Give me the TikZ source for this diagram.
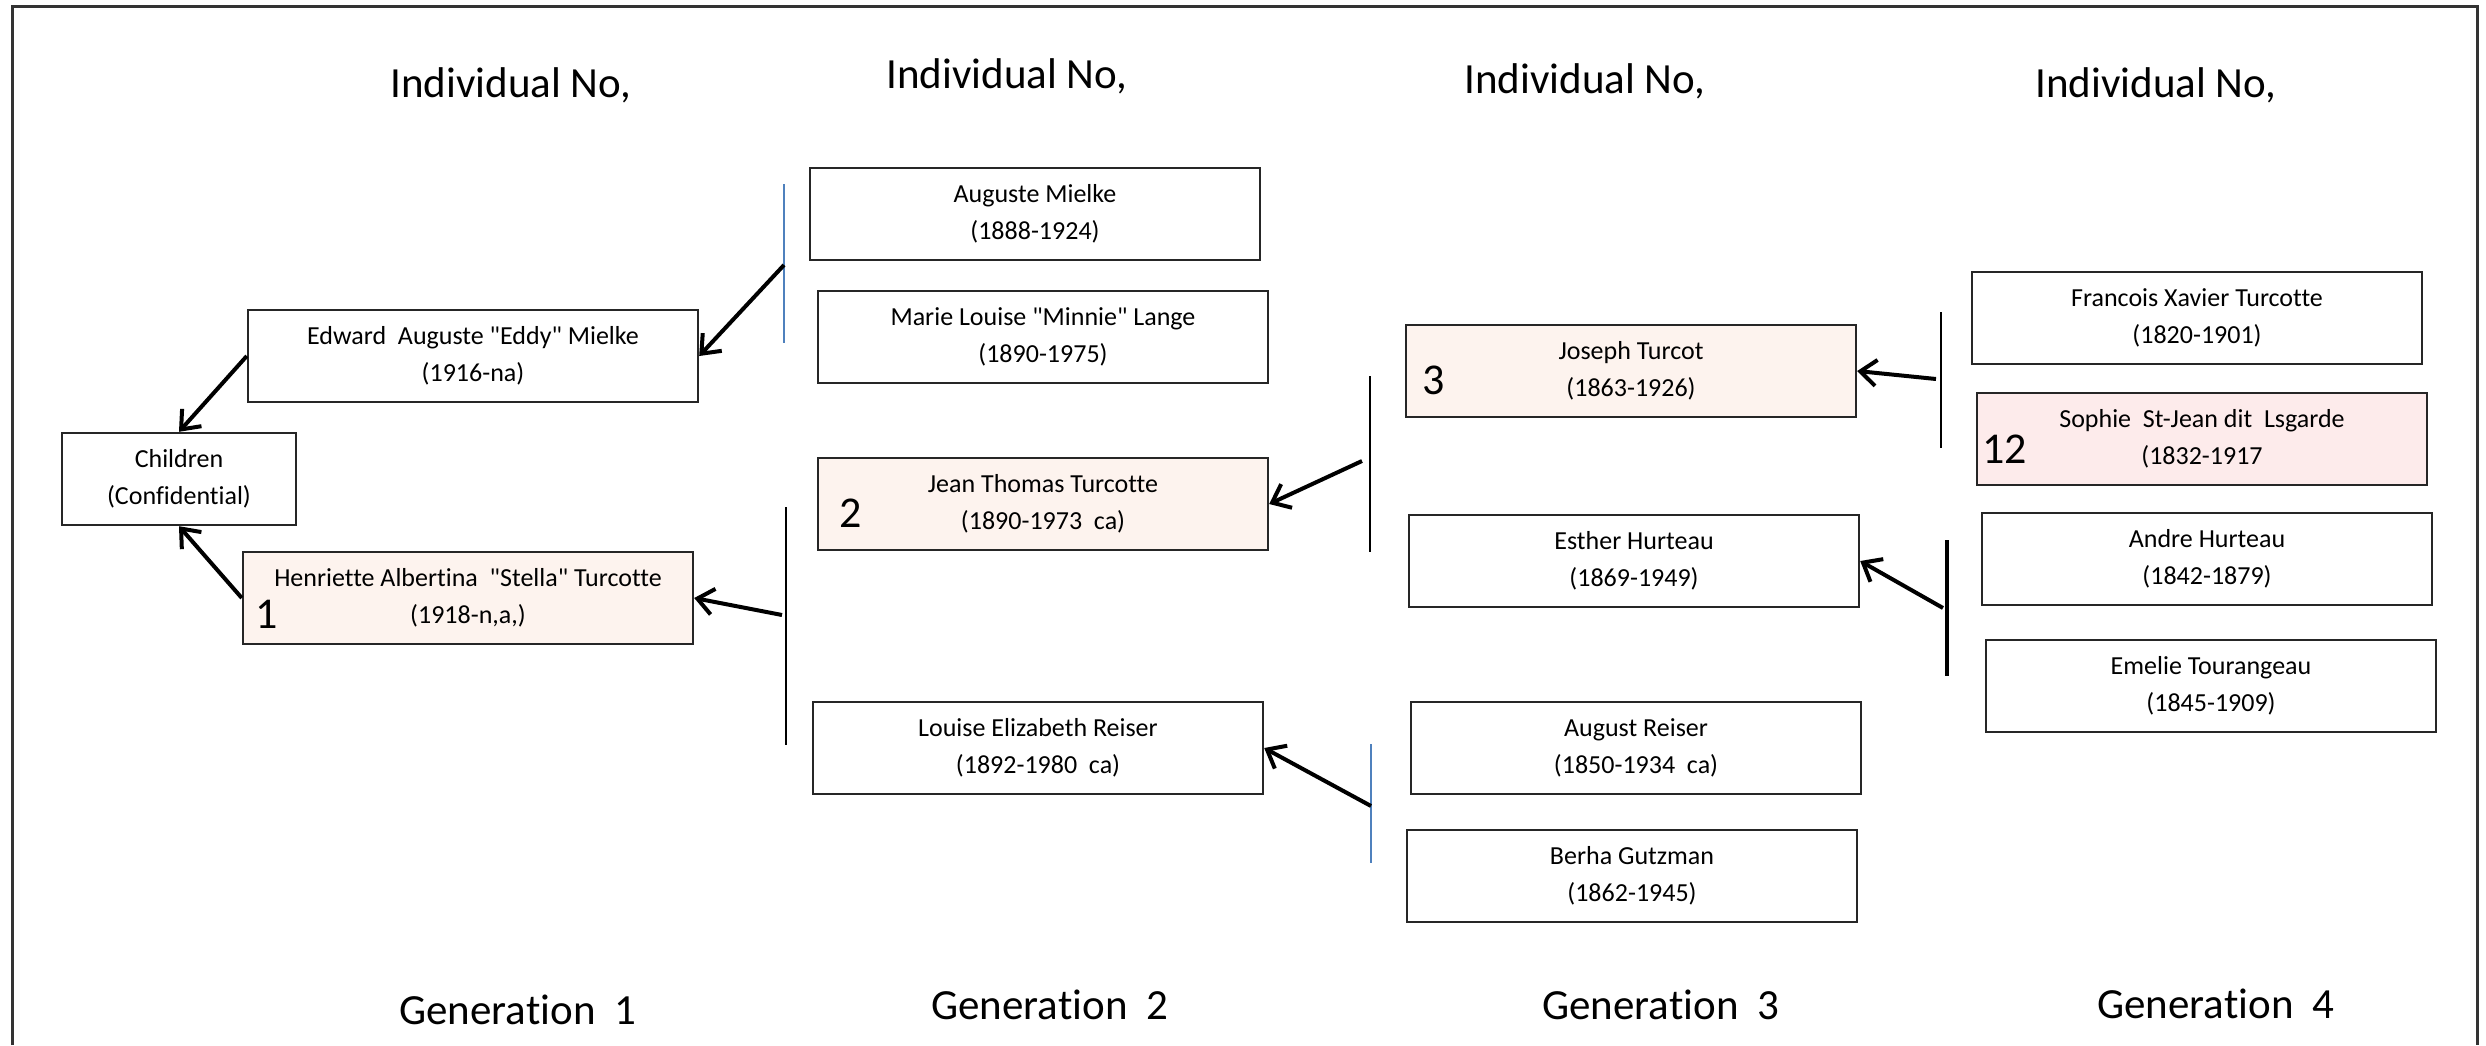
\documentclass[tikz,border=0pt]{standalone}
\usepackage{fontspec}
\setmainfont{Carlito}[Ligatures={TeX,NoCommon}]
\usetikzlibrary{arrows.meta}
\definecolor{peach}{HTML}{FDF3EE}
\definecolor{rosy}{HTML}{FDEBEB}
\definecolor{officeblue}{HTML}{4F81BD}
\newcommand{\qq}{\textquotedbl}
\begin{document}
\begin{tikzpicture}[x=0.5pt,y=-0.5pt,
  person/.style={draw=black!85,line width=1.2pt,minimum width=225pt,minimum height=46pt,
    inner sep=0pt,align=center,font=\fontsize{13}{18.5}\selectfont},
  marked/.style={person,fill=peach},
  num/.style={anchor=base west,inner sep=0pt,font=\fontsize{22}{22}\selectfont},
  head/.style={anchor=base,inner sep=0pt,font=\fontsize{21.5}{21.5}\selectfont},
  arr/.style={line width=2pt,-{Straight Barb[length=8pt,width=13pt,line width=2pt]}},
  bar/.style={line width=1pt},
  bluebar/.style={officeblue,line width=1pt}]
  \useasboundingbox (0,0) rectangle (2486,1045);
  \draw[black!80,line width=1.5pt] (12,1045) -- (12,6) -- (2477,6) -- (2477,1045);

  \node[head] (ind1) at (511,97) {Individual No,};
  \node[head] (ind2) at (1007,88) {Individual No,};
  \node[head] (ind3) at (1585,93) {Individual No,};
  \node[head] (ind4) at (2156,97) {Individual No,};
  \node[head] (gen1) at (518,1024) {Generation\ \ 1};
  \node[head] (gen2) at (1050,1019) {Generation\ \ 2};
  \node[head] (gen3) at (1661,1019) {Generation\ \ 3};
  \node[head] (gen4) at (2216,1018) {Generation\ \ 4};

  \node[person,minimum width=117pt] (children) at (179,479) {Children\\(Confidential)};
  \node[person] (edward) at (473,356) {Edward\ \ Auguste \qq Eddy\qq\ Mielke\\(1916-na)};
  \node[marked] (henriette) at (468,598) {Henriette Albertina\ \ \qq Stella\qq\ Turcotte\\(1918-n,a,)};

  \node[person] (auguste) at (1035,214) {Auguste Mielke\\(1888-1924)};
  \node[person] (marie) at (1043,337) {Marie Louise \qq Minnie\qq\ Lange\\(1890-1975)};
  \node[marked] (jean) at (1043,504) {Jean Thomas Turcotte\\(1890-1973\ \ ca)};
  \node[person] (louise) at (1038,748) {Louise Elizabeth Reiser\\(1892-1980\ \ ca)};

  \node[marked] (joseph) at (1631,371) {Joseph Turcot\\(1863-1926)};
  \node[person] (esther) at (1634,561) {Esther Hurteau\\(1869-1949)};
  \node[person] (august) at (1636,748) {August Reiser\\(1850-1934\ \ ca)};
  \node[person] (berha) at (1632,876) {Berha Gutzman\\(1862-1945)};

  \node[person] (francois) at (2197,318) {Francois Xavier Turcotte\\(1820-1901)};
  \node[person,fill=rosy] (sophie) at (2202,439) {Sophie\ \ St-Jean dit\ \ Lsgarde\\(1832-1917};
  \node[person] (andre) at (2207,559) {Andre Hurteau\\(1842-1879)};
  \node[person] (emelie) at (2211,686) {Emelie Tourangeau\\(1845-1909)};

  \node[num] (n1) at (255,628) {1};
  \node[num] (n2) at (839,527) {2};
  \node[num] (n3) at (1422,394) {3};
  \node[num] (n12) at (1982,463) {12};

  \coordinate (mielketop) at (784,184);
  \coordinate (mielkebot) at (784,343);
  \coordinate (mielkemid) at (784,265);
  \coordinate (turc2top) at (786,507);
  \coordinate (turc2bot) at (786,745);
  \coordinate (turc2mid) at (782,615);
  \coordinate (turc3top) at (1370,376);
  \coordinate (turc3bot) at (1370,552);
  \coordinate (turc3mid) at (1362,461);
  \coordinate (reisertop) at (1371,744);
  \coordinate (reiserbot) at (1371,863);
  \coordinate (reisermid) at (1371,806);
  \coordinate (turc4top) at (1941,312);
  \coordinate (turc4bot) at (1941,448);
  \coordinate (turc4mid) at (1936,379);
  \coordinate (hurtop) at (1947,540);
  \coordinate (hurbot) at (1947,676);
  \coordinate (hurmid) at (1943,608);

  \draw[bluebar] (mielketop) -- (mielkebot);
  \draw[bar] (turc2top) -- (turc2bot);
  \draw[bar] (turc3top) -- (turc3bot);
  \draw[bluebar] (reisertop) -- (reiserbot);
  \draw[bar] (turc4top) -- (turc4bot);
  \draw[bar,line width=1.8pt] (hurtop) -- (hurbot);

  \draw[arr] (edward.west) -- (children.north);
  \draw[arr] (henriette.west) -- (children.south);
  \draw[arr] (mielkemid) -- (edward.east);
  \draw[arr] (turc2mid) -- (henriette.east);
  \draw[arr] (turc3mid) -- (jean.east);
  \draw[arr] (reisermid) -- (louise.east);
  \draw[arr] (turc4mid) -- (joseph.east);
  \draw[arr] (hurmid) -- (esther.east);
\end{tikzpicture}
\end{document}
